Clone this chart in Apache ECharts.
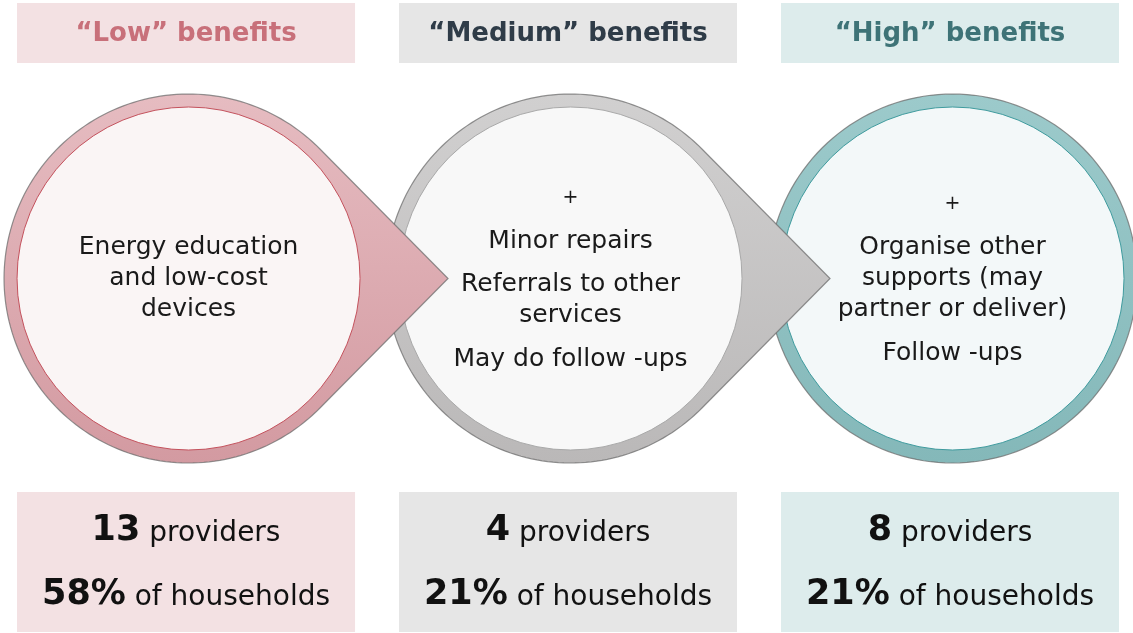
<!DOCTYPE html>
<html>
<head>
<meta charset="utf-8">
<script src="https://cdn.jsdelivr.net/npm/echarts@6/dist/echarts.min.js"></script>
<style>
  html, body { margin: 0; padding: 0; background: #fff; }
  #chart { width: 1133px; height: 633px; }
</style>
</head>
<body>
<div id="chart"></div>
<script>
// data
var levels = ['Low', 'Medium', 'High'];
var providers = [13, 4, 8];
var households = [58, 21, 21];
var descriptions = [
  [['Energy education', 'and low-cost', 'devices']],
  [['+'], ['Minor repairs'], ['Referrals to other', 'services'], ['May do follow -ups']],
  [['+'], ['Organise other', 'supports (may', 'partner or deliver)'], ['Follow -ups']]
];

// colours per level
var palette = [
  { box: '#f3e1e3', title: '#c8707a', ringTop: '#e6bcc1', ringBottom: '#d39aa1', inner: '#faf5f5', innerStroke: '#c4525d' },
  { box: '#e6e6e6', title: '#2f3c48', ringTop: '#d1d0d0', ringBottom: '#bab8b8', inner: '#f8f8f8', innerStroke: '#a9a9a9' },
  { box: '#ddecec', title: '#3e7377', ringTop: '#9ccacb', ringBottom: '#84b8b9', inner: '#f3f8f9', innerStroke: '#3f9b9e' }
];

var FONT = '"DejaVu Sans"';
var BOX_W = 338, HEAD_Y = 3, HEAD_H = 60, BOX_Y = 492, BOX_H = 140;
var CY = 278.5, R_OUT = 184.5, R_IN = 171.5, TIP = 259.5;
var LINE_GAP = 31, PARA_GAP = 43.5;

// circle outline, with a pointer to the right when withTip is set
function dropPoints(cx, cy, withTip) {
  var theta = withTip ? Math.acos(R_OUT / TIP) : 0;
  var pts = [];
  var n = 160;
  for (var k = 0; k <= n; k++) {
    var a = theta + (2 * Math.PI - 2 * theta) * k / n;
    pts.push([cx + R_OUT * Math.cos(a), cy - R_OUT * Math.sin(a)]);
  }
  if (withTip) pts.push([cx + TIP, cy]);
  return pts;
}

function layoutLines(paras) {
  var out = [];
  var y = 0;
  paras.forEach(function (p) {
    p.forEach(function (line, li) {
      if (out.length) y += li === 0 ? PARA_GAP : LINE_GAP;
      out.push({ text: line, y: y });
    });
  });
  var h = y;
  out.forEach(function (o) { o.y = o.y - h / 2; });
  return out;
}

var chart = echarts.init(document.getElementById('chart'));

// drawn right to left so each pointer sits on top of the next circle
var rows = levels.map(function (l, i) { return [i, providers[i], households[i]]; }).reverse();

var option = {
  animation: false,
  grid: { left: 0, top: 0, right: 0, bottom: 0 },
  // one unit = one column (382px), column 0 centred at x=186
  xAxis: { type: 'value', min: -0.487, max: 2.479, show: false },
  yAxis: { type: 'value', min: 0, max: 1, show: false },
  series: [{
    type: 'custom',
    clip: false,
    data: rows,
    renderItem: function (params, api) {
      var i = api.value(0);
      var cx = api.coord([i, 0])[0];
      var c = palette[i];
      var zb = 30 - i * 10;
      var ccx = cx + 2.5;
      var children = [];

      // header
      children.push({
        type: 'rect',
        shape: { x: cx - BOX_W / 2, y: HEAD_Y, width: BOX_W, height: HEAD_H },
        style: { fill: c.box },
        z2: 1
      });
      children.push({
        type: 'text',
        x: cx, y: HEAD_Y + HEAD_H / 2 + 1,
        style: {
          text: '\u201c' + levels[i] + '\u201d benefits',
          fontFamily: FONT, fontWeight: 'bold', fontSize: 26,
          fill: c.title, align: 'center', verticalAlign: 'middle'
        },
        z2: 2
      });

      // drop shape
      children.push({
        type: 'polygon',
        shape: { points: dropPoints(ccx, CY, i < levels.length - 1) },
        style: {
          fill: new echarts.graphic.LinearGradient(0, 0, 0, 1, [
            { offset: 0, color: c.ringTop },
            { offset: 1, color: c.ringBottom }
          ]),
          stroke: 'rgba(110,110,110,0.75)',
          lineWidth: 1.2
        },
        z2: zb
      });
      children.push({
        type: 'circle',
        shape: { cx: ccx, cy: CY, r: R_IN },
        style: { fill: c.inner, stroke: c.innerStroke, lineWidth: 1 },
        z2: zb + 1
      });
      layoutLines(descriptions[i]).forEach(function (o) {
        children.push({
          type: 'text',
          x: ccx, y: CY + o.y,
          style: {
            text: o.text, fontFamily: FONT, fontSize: o.text === '+' ? 19 : 25,
            fill: '#1a1a1a', align: 'center', verticalAlign: 'middle'
          },
          z2: zb + 2
        });
      });

      // bottom box
      children.push({
        type: 'rect',
        shape: { x: cx - BOX_W / 2, y: BOX_Y, width: BOX_W, height: BOX_H },
        style: { fill: c.box },
        z2: 1
      });
      var rich = {
        b: { fontFamily: FONT, fontWeight: 'bold', fontSize: 35, lineHeight: 36, fill: '#111', verticalAlign: 'bottom' },
        r: { fontFamily: FONT, fontSize: 28, lineHeight: 36, fill: '#111', verticalAlign: 'bottom' }
      };
      children.push({
        type: 'text',
        x: cx, y: 530,
        style: {
          text: '{b|' + api.value(1) + '}{r| providers}',
          rich: rich, align: 'center', verticalAlign: 'middle'
        },
        z2: 2
      });
      children.push({
        type: 'text',
        x: cx, y: 594,
        style: {
          text: '{b|' + api.value(2) + '%}{r| of households}',
          rich: rich, align: 'center', verticalAlign: 'middle'
        },
        z2: 2
      });

      return { type: 'group', children: children };
    }
  }]
};

chart.setOption(option);
</script>
</body>
</html>
